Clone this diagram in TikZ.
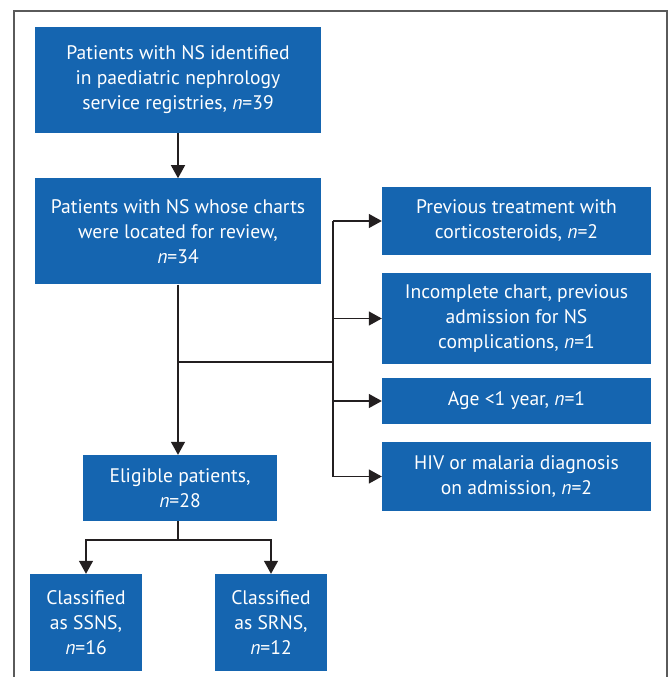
\documentclass[tikz,border=0pt]{standalone}
\usepackage{fontspec}
\setmainfont{PT Sans}
\usepackage{tikz}
\usetikzlibrary{positioning}
\usetikzlibrary{arrows.meta}
\definecolor{boxblue}{HTML}{1565B0}
\definecolor{linegray}{HTML}{231F20}
\definecolor{framegray}{HTML}{5A5A5A}
\tikzset{
flow_box/.style={rectangle, fill=boxblue, text=white, align=center, inner sep=0pt, font=\fontsize{19.6}{25}\selectfont},
flow_line/.style={draw=linegray, line width=1.4pt},
flow_arrow/.style={flow_line, -{Triangle[length=13pt,width=14pt]}}
}

\begin{document}
\begin{tikzpicture}[x=1pt, y=-1pt]
    \useasboundingbox (0,0) rectangle (670,677);
    \draw[framegray, line width=1.5pt] (14,677) -- (14,11) -- (667,11) -- (667,677);
    % main column
    \node[flow_box, minimum width=286pt, minimum height=106pt] (registry) at (178,80) {Patients with NS identified\\in paediatric nephrology\\service registries, \textit{n}=39};
    \node[flow_box, minimum width=286pt, minimum height=106pt] (located) [below=45pt of registry] {Patients with NS whose charts\\were located for review,\\\textit{n}=34};
    \node[flow_box, minimum width=194pt, minimum height=66pt] (eligible) at (180,488) {Eligible patients,\\\textit{n}=28};
    \node[flow_box, minimum width=112pt, minimum height=97pt] (ssns) at (86,622.5) {Classified\\as SSNS,\\\textit{n}=16};
    \node[flow_box, minimum width=112pt, minimum height=97pt] (srns) at (271,622.5) {Classified\\as SRNS,\\\textit{n}=12};
    % exclusions
    \node[flow_box, minimum width=269pt, minimum height=68pt] (steroids) at (516.5,221) {Previous treatment with\\corticosteroids, \textit{n}=2};
    \node[flow_box, minimum width=269pt, minimum height=91pt] (incomplete) at (516.5,318.5) {Incomplete chart, previous\\admission for NS\\complications, \textit{n}=1};
    \node[flow_box, minimum width=269pt, minimum height=46pt] (age) at (516.5,401) {Age <1 year, \textit{n}=1};
    \node[flow_box, minimum width=269pt, minimum height=69pt] (hiv) at (516.5,476.5) {HIV or malaria diagnosis\\on admission, \textit{n}=2};
    \coordinate (branch) at (178,362);
    \coordinate (split) at (333,362);
    \coordinate (fork) at (178,540);
    \draw[flow_arrow] (registry) -- (located);
    \draw[flow_arrow] (located.south) -- (located.south |- eligible.north);
    \draw[flow_line] (branch) -- (split);
    \draw[flow_line] (split |- steroids.west) -- (split |- hiv.west);
    \foreach \target in {steroids, incomplete, age, hiv}
        \draw[flow_arrow] (split |- \target.west) -- (\target.west);
    \draw[flow_line] (eligible.south -| fork) -- (fork);
    \draw[flow_arrow] (fork) -| (ssns.north);
    \draw[flow_arrow] (fork) -| (srns.north);
\end{tikzpicture}
\end{document}
